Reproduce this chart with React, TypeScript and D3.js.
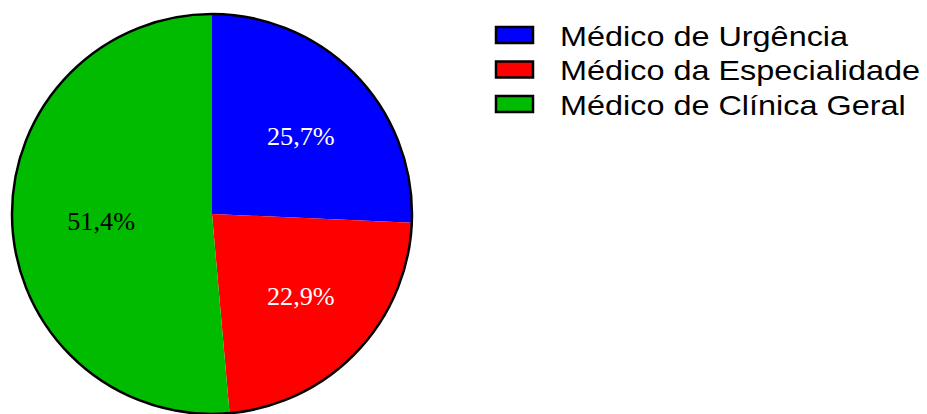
import React from "react";
import * as d3 from "d3";

const categories = ["Médico de Urgência", "Médico da Especialidade", "Médico de Clínica Geral"];
const values = [25.7, 22.9, 51.4];
const labels = ["25,7%", "22,9%", "51,4%"];
const colors = ["#0000ff", "#ff0000", "#00bb00"];
const labelColors = ["#ffffff", "#ffffff", "#000000"];

export default function App() {
  const W = 927, H = 414;
  const cx = 212, cy = 214, R = 200;
  const pie = d3.pie<number>().sort(null).value((d) => d)(values);
  const arc = d3.arc<d3.PieArcDatum<number>>().innerRadius(0).outerRadius(R);
  const labelArc = d3.arc<d3.PieArcDatum<number>>().innerRadius(R * 0.58).outerRadius(R * 0.58);
  const legendY = d3.scaleBand<number>().domain(d3.range(categories.length)).range([27, 130.5]);
  return (
    <svg width={W} height={H} style={{ position: "absolute", left: 0, top: 0, background: "#fff" }}>
      <rect width={W} height={H} fill="#fff" />
      <g transform={`translate(${cx},${cy})`}>
        {pie.map((p, i) => (
          <path key={i} d={arc(p) || ""} fill={colors[i]} />
        ))}
        <circle r={R} fill="none" stroke="#000" strokeWidth={2.5} />
        {pie.map((p, i) => {
          const [x, y] = labelArc.centroid(p);
          return (
            <g key={i} transform={`translate(${x + 5},${y + 2})`}>
              <text dy="0.35em" textAnchor="middle" fill={labelColors[i]} transform="scale(1.05,1)"
                fontFamily="'Liberation Serif', 'Times New Roman', serif" fontSize={25}>
                {labels[i]}
              </text>
            </g>
          );
        })}
      </g>
      <g>
        {categories.map((c, i) => {
          const y = legendY(i)!;
          return (
            <g key={i} transform={`translate(496,${y})`}>
              <rect x={0} y={0} width={37} height={16} fill={colors[i]} stroke="#000" strokeWidth={2.5} />
              <g transform="translate(64,18.5)">
                <text transform="scale(1.2,1)" fontFamily="'Liberation Sans', Arial, sans-serif" fontSize={27} fill="#000">
                  {c}
                </text>
              </g>
            </g>
          );
        })}
      </g>
    </svg>
  );
}
